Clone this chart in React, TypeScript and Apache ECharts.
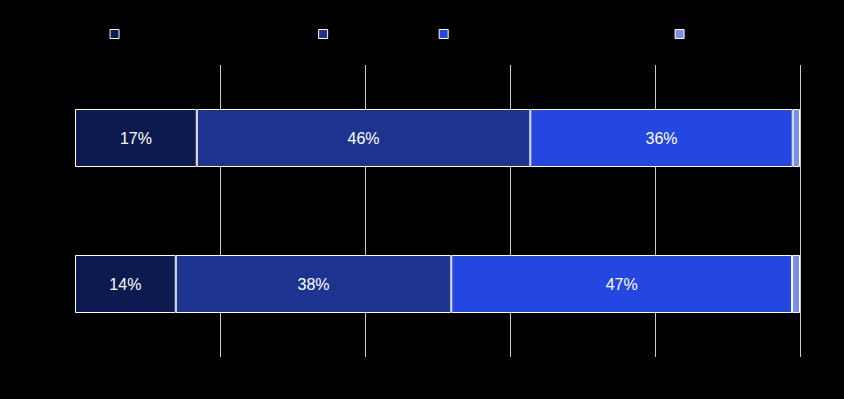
import React, { useEffect, useRef } from "react";
import * as echarts from "echarts";

const categories = ["Group B", "Group A"];
const seriesNames = [
  "Very likely to recommend to friend.",
  "Somewhat likely if",
  "Not very likely to recommend to a friend",
  "Not sure",
];
const seriesColors = ["#0c1a4f", "#1c3490", "#2347e0", "#7a90e8"];
const values1 = [13.9, 16.8];
const values2 = [38.0, 46.0];
const values3 = [47.0, 36.2];
const values4 = [1.1, 1.0];
const allValues = [values1, values2, values3, values4];

export default function App() {
  const ref = useRef<HTMLDivElement>(null);
  useEffect(() => {
    if (!ref.current) return;
    const chart = echarts.init(ref.current, undefined, { renderer: "svg" });
    chart.setOption({
      animation: false,
      backgroundColor: "#000000",
      legend: {
        top: 23,
        left: "center",
        itemWidth: 9,
        itemHeight: 9,
        itemGap: 10,
        icon: "rect",
        textStyle: { color: "#000000", fontSize: 12 },
        itemStyle: { borderColor: "#ffffff", borderWidth: 1 },
        data: seriesNames,
      },
      grid: { left: 75, right: 44, top: 65, bottom: 42 },
      xAxis: {
        type: "value",
        min: 0,
        max: 100,
        interval: 20,
        axisLabel: { color: "#000000" },
        axisLine: { show: false },
        axisTick: { show: false },
        splitLine: {
          lineStyle: {
            color: ["rgba(0,0,0,0)", "#c8c8c8", "#c8c8c8", "#c8c8c8", "#c8c8c8", "#c8c8c8"],
            width: 1,
          },
        },
      },
      yAxis: {
        type: "category",
        data: categories,
        axisLabel: { color: "#000000" },
        axisLine: { show: false },
        axisTick: { show: false },
      },
      series: seriesNames.map((name, i) => ({
        name,
        type: "bar",
        stack: "total",
        barWidth: 58,
        data: allValues[i],
        itemStyle: {
          color: seriesColors[i],
          borderColor: "#ffffff",
          borderWidth: 1,
        },
        label: {
          show: true,
          position: "inside",
          color: "#ffffff",
          fontSize: 16,
          fontFamily: "Liberation Sans, Arial, sans-serif",
          formatter: (p: any) => (p.value >= 3 ? Math.round(p.value) + "%" : ""),
        },
      })),
    });
    return () => chart.dispose();
  }, []);
  return <div ref={ref} style={{ width: 844, height: 399, position: "absolute", left: 0, top: 0 }} />;
}
